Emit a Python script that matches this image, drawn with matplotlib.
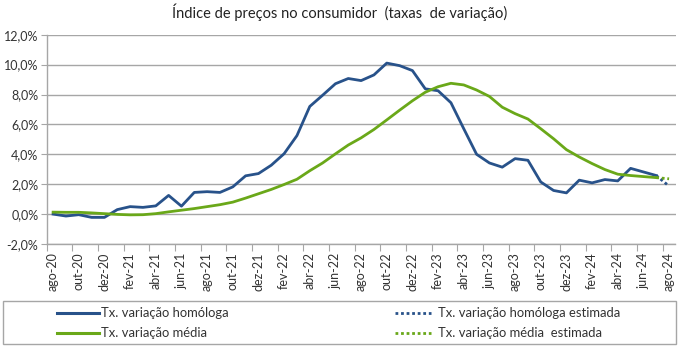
import matplotlib
matplotlib.use("Agg")
import matplotlib.pyplot as plt
from matplotlib.lines import Line2D
from matplotlib.patches import Rectangle
from matplotlib.ticker import FuncFormatter, FixedLocator

plt.rcParams['font.family'] = ['Lato', 'DejaVu Sans']

# Monthly periods, ago-20 .. ago-24
meses = ["jan", "fev", "mar", "abr", "mai", "jun", "jul", "ago", "set", "out", "nov", "dez"]
periodos = []
ano, m = 20, 7
while (ano, m) <= (24, 7):
    periodos.append(f"{meses[m]}-{ano:02d}")
    m += 1
    if m == 12:
        m, ano = 0, ano + 1

# Year-on-year rate (%), ago-20 .. jul-24
homologa = [0.0, -0.13, -0.04, -0.22, -0.22,
            0.3, 0.5, 0.45, 0.55, 1.25, 0.53, 1.45, 1.5, 1.45, 1.82, 2.56, 2.71,
            3.27, 4.04, 5.25, 7.2, 7.95, 8.72, 9.07, 8.93, 9.31, 10.1, 9.93, 9.6,
            8.38, 8.25, 7.45, 5.71, 4.0, 3.42, 3.14, 3.71, 3.6, 2.15, 1.58, 1.42,
            2.27, 2.09, 2.31, 2.22, 3.06, 2.82, 2.58]
# Estimated year-on-year rate, jul-24 .. ago-24
homologa_est = [2.58, 1.87]

# 12-month average rate (%), ago-20 .. jul-24
media = [0.13, 0.12, 0.12, 0.08, 0.03,
         -0.02, -0.05, -0.04, 0.03, 0.15, 0.26, 0.37, 0.5, 0.63, 0.8, 1.07, 1.36,
         1.65, 1.98, 2.33, 2.9, 3.42, 4.03, 4.62, 5.1, 5.66, 6.3, 6.95, 7.58,
         8.15, 8.52, 8.75, 8.64, 8.3, 7.87, 7.15, 6.72, 6.36, 5.71, 5.04, 4.31,
         3.82, 3.38, 2.98, 2.67, 2.58, 2.51, 2.44]
# Estimated 12-month average rate, jul-24 .. ago-24
media_est = [2.44, 2.36]

AZUL = "#28528a"
VERDE = "#6aa819"
CINZA = "#a6a6a6"
TEXTO = "#333333"
PONTEADO = (0, (1, 1))

W, H = 680, 346
fig = plt.figure(figsize=(W / 100, H / 100), dpi=100)
ax = fig.add_axes([46.7 / W, 1 - 244 / H, (675.5 - 46.7) / W, (244 - 34.7) / H])

x = list(range(len(homologa)))
x_est = [len(homologa) - 1, len(homologa)]

ax.plot(x, homologa, color=AZUL, lw=2.0, solid_joinstyle="round", zorder=3)
ax.plot(x_est, homologa_est, color=AZUL, lw=2.0, ls=PONTEADO, zorder=3)
ax.plot(x, media, color=VERDE, lw=2.0, solid_joinstyle="round", zorder=3)
ax.plot(x_est, media_est, color=VERDE, lw=2.0, ls=PONTEADO, zorder=3)

ax.set_xlim(-0.5, len(periodos) - 0.5)
ax.set_ylim(-2, 12)
ax.set_yticks(range(-2, 13, 2))
ax.yaxis.set_major_formatter(FuncFormatter(lambda v, p: f"{v:.1f}%".replace(".", ",")))
ax.grid(axis="y", color=CINZA, lw=1.0)
ax.set_axisbelow(True)

# Labels every two months, tick marks on category boundaries
ax.xaxis.set_major_locator(FixedLocator([i - 0.5 for i in range(0, len(periodos) + 1, 2)]))
ax.xaxis.set_major_formatter(FuncFormatter(lambda v, p: ""))
ax.xaxis.set_minor_locator(FixedLocator(list(range(0, len(periodos), 2))))
ax.set_xticklabels([periodos[i] for i in range(0, len(periodos), 2)], minor=True,
                   rotation=90, fontsize=9)
ax.tick_params(axis="x", which="minor", length=0, pad=6, colors=TEXTO)
ax.tick_params(axis="x", which="major", length=5, color=CINZA)
ax.tick_params(axis="y", length=4, color=CINZA, labelsize=9, labelcolor=TEXTO, pad=2)

for s in ["top", "right"]:
    ax.spines[s].set_visible(False)
for s in ["left", "bottom"]:
    ax.spines[s].set_color(CINZA)
    ax.spines[s].set_linewidth(1.0)

fig.text(340 / W, 1 - 12 / H, "Índice de preços no consumidor  (taxas  de variação)",
         ha="center", va="center", fontsize=10.5, color="#222222")

# Legend box laid out in pixel positions
def fx(px):
    return px / W

def fy(py):
    return 1 - py / H

fig.add_artist(Rectangle((fx(3), fy(344)), fx(676) - fx(3), fy(301) - fy(344),
                         transform=fig.transFigure, fill=False, edgecolor=CINZA, lw=1.0))

entradas = [
    (57, 99, 101, 312.7, AZUL, "-", "Tx. variação homóloga"),
    (57, 99, 101, 333.3, VERDE, "-", "Tx. variação média"),
    (395, 431, 438, 312.7, AZUL, PONTEADO, "Tx. variação homóloga estimada"),
    (395, 431, 438, 333.3, VERDE, PONTEADO, "Tx. variação média  estimada"),
]
for x0, x1, xt, yl, cor, estilo, texto in entradas:
    fig.add_artist(Line2D([fx(x0), fx(x1)], [fy(yl), fy(yl)], transform=fig.transFigure,
                          color=cor, lw=2.2 if estilo == "-" else 2.0, ls=estilo))
    fig.text(fx(xt), fy(yl), texto, ha="left", va="center", fontsize=9.4, color=TEXTO)

fig.savefig("out.png", dpi=100)
